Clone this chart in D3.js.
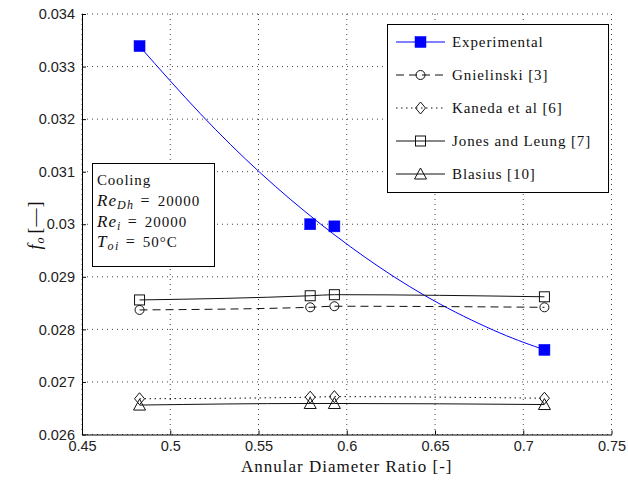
<!DOCTYPE html>
<html>
<head>
<meta charset="utf-8">
<script src="https://cdn.jsdelivr.net/npm/d3@7"></script>
<style>
  body { margin: 0; background: #fff; }
  svg { display: block; }
</style>
</head>
<body>
<div id="chart"></div>
<script>
// data
const ratio = [0.4826, 0.5793, 0.593, 0.712];
const experimental = [0.03339, 0.03000, 0.02996, 0.02761];
const gnielinski = [0.02837, 0.02842, 0.02844, 0.02842];
const kaneda = [0.02668, 0.02671, 0.02672, 0.02669];
const jones = [0.02856, 0.02864, 0.02866, 0.02862];
const blasius = [0.02656, 0.02659, 0.02659, 0.02657];

// blue fitted curve through the experimental points
const fitRatio = [0.4826, 0.517, 0.551, 0.5849, 0.6189, 0.6529, 0.6869, 0.712];
const fitValues = [0.033386, 0.032105, 0.030979, 0.030011, 0.029175, 0.028481, 0.02793, 0.027612];

const xTicks = [0.45, 0.5, 0.55, 0.6, 0.65, 0.7, 0.75];
const yTicks = [0.026, 0.027, 0.028, 0.029, 0.03, 0.031, 0.032, 0.033, 0.034];

const W = 628, H = 487;
const margin = { top: 14, right: 16.5, bottom: 52.5, left: 82 };
const width = W - margin.left - margin.right;
const height = H - margin.top - margin.bottom;

const svg = d3.select("#chart").append("svg")
    .attr("width", W)
    .attr("height", H);

const g = svg.append("g")
    .attr("transform", `translate(${margin.left},${margin.top})`);

const x = d3.scaleLinear().domain([0.45, 0.75]).range([0, width]);
const y = d3.scaleLinear().domain([0.026, 0.034]).range([height, 0]);

const fmt = d => String(+d.toFixed(3));

// grid
g.append("g").selectAll("line").data(xTicks).enter().append("line")
    .attr("x1", d => x(d)).attr("x2", d => x(d))
    .attr("y1", 0).attr("y2", height)
    .attr("stroke", "#444").attr("stroke-width", 1)
    .attr("stroke-dasharray", "1,4");
g.append("g").selectAll("line").data(yTicks).enter().append("line")
    .attr("y1", d => y(d)).attr("y2", d => y(d))
    .attr("x1", 0).attr("x2", width)
    .attr("stroke", "#444").attr("stroke-width", 1)
    .attr("stroke-dasharray", "1,4");

// axes
const xAxis = d3.axisBottom(x).tickValues(xTicks).tickFormat(fmt).tickSizeInner(-4).tickSizeOuter(0).tickPadding(6);
const yAxis = d3.axisLeft(y).tickValues(yTicks).tickFormat(fmt).tickSizeInner(-4).tickSizeOuter(0).tickPadding(7);

const gx = g.append("g").attr("transform", `translate(0,${height})`).call(xAxis);
const gy = g.append("g").call(yAxis);
[gx, gy].forEach(a => {
  a.select(".domain").attr("stroke", "#000");
  a.selectAll(".tick line").attr("stroke", "#000");
  a.selectAll("text").attr("fill", "#222")
    .style("font-family", "'Liberation Sans', Arial, sans-serif")
    .style("font-size", "14.5px");
});

// series
const pts = (xs, vals) => vals.map((v, i) => [xs[i], v]);
const lineMono = d3.line().x(d => x(d[0])).y(d => y(d[1])).curve(d3.curveMonotoneX);
const lineSmooth = d3.line().x(d => x(d[0])).y(d => y(d[1])).curve(d3.curveNatural);

const series = [
  { name: "Experimental", vals: experimental, color: "#0000ff", dash: null, marker: "filledSquare" },
  { name: "Gnielinski [3]", vals: gnielinski, color: "#111", dash: "8,5", marker: "circle" },
  { name: "Kaneda et al [6]", vals: kaneda, color: "#111", dash: "1.5,3.5", marker: "diamond" },
  { name: "Jones and Leung [7]", vals: jones, color: "#111", dash: null, marker: "square" },
  { name: "Blasius [10]", vals: blasius, color: "#111", dash: null, marker: "triangle" }
];

function drawMarker(sel, type, cx, cy) {
  if (type === "filledSquare") {
    sel.append("rect").attr("x", cx - 5.5).attr("y", cy - 5.5).attr("width", 11).attr("height", 11)
      .attr("fill", "#0000ff").attr("stroke", "#0000ff").attr("stroke-width", 0.5);
  } else if (type === "square") {
    sel.append("rect").attr("x", cx - 5).attr("y", cy - 5).attr("width", 10).attr("height", 10)
      .attr("fill", "none").attr("stroke", "#111").attr("stroke-width", 1);
  } else if (type === "circle") {
    sel.append("circle").attr("cx", cx).attr("cy", cy).attr("r", 4.5)
      .attr("fill", "none").attr("stroke", "#111").attr("stroke-width", 1);
  } else if (type === "diamond") {
    sel.append("path").attr("d", `M${cx},${cy - 6}L${cx + 5},${cy}L${cx},${cy + 6}L${cx - 5},${cy}Z`)
      .attr("fill", "none").attr("stroke", "#111").attr("stroke-width", 1);
  } else if (type === "triangle") {
    sel.append("path").attr("d", `M${cx},${cy - 6}L${cx + 6},${cy + 5}L${cx - 6},${cy + 5}Z`)
      .attr("fill", "none").attr("stroke", "#111").attr("stroke-width", 1);
  }
}

series.forEach(s => {
  const data = s.marker === "filledSquare" ? pts(fitRatio, fitValues) : pts(ratio, s.vals);
  g.append("path").datum(data)
    .attr("fill", "none")
    .attr("stroke", s.color)
    .attr("stroke-width", 1)
    .attr("stroke-dasharray", s.dash)
    .attr("d", s.marker === "filledSquare" ? lineSmooth : lineMono);
});
series.forEach(s => {
  const mg = g.append("g");
  pts(ratio, s.vals).forEach(d => drawMarker(mg, s.marker, x(d[0]), y(d[1])));
});

// legend
const serif = "'Liberation Serif', 'Times New Roman', serif";
const leg = svg.append("g");
leg.append("rect").attr("x", 387.5).attr("y", 24.5).attr("width", 221).attr("height", 168)
  .attr("fill", "#fff").attr("stroke", "#000").attr("stroke-width", 1);
series.forEach((s, i) => {
  const ly = 42 + i * 33;
  leg.append("line").attr("x1", 396).attr("x2", 445).attr("y1", ly).attr("y2", ly)
    .attr("stroke", s.color).attr("stroke-width", 1).attr("stroke-dasharray", s.dash);
  drawMarker(leg, s.marker, 420.5, ly);
  leg.append("text").attr("x", 452).attr("y", ly + 5).text(s.name)
    .style("font-family", serif).style("font-size", "15px").style("letter-spacing", "0.9px")
    .attr("fill", "#111");
});

// annotation box
const ann = svg.append("g");
ann.append("rect").attr("x", 92.5).attr("y", 163.5).attr("width", 122).attr("height", 103)
  .attr("fill", "#fff").attr("stroke", "#000").attr("stroke-width", 1);
const annText = (yy) => ann.append("text").attr("x", 97).attr("y", yy)
  .style("font-family", serif).style("font-size", "15px").attr("fill", "#111");
annText(185).style("letter-spacing", "0.8px").text("Cooling");
function mathLine(yy, sym, sub, rest) {
  const t = annText(yy);
  t.append("tspan").style("font-style", "italic").style("font-size", "17px")
    .style("letter-spacing", "1px").text(sym);
  t.append("tspan").style("font-style", "italic").style("font-size", "12px")
    .style("letter-spacing", "1.5px").attr("dy", 3).text(sub);
  t.append("tspan").attr("dy", -3).attr("dx", 6).style("font-size", "16px").text("=");
  t.append("tspan").attr("dx", 8).style("letter-spacing", "1px").text(rest);
}
mathLine(206, "Re", "Dh", "20000");
mathLine(227, "Re", "i", "20000");
mathLine(247, "T", "oi", "50°C");

// axis titles
svg.append("text").attr("x", margin.left + width / 2).attr("y", 472)
  .attr("text-anchor", "middle").text("Annular Diameter Ratio [-]")
  .style("font-family", serif).style("font-size", "17px").style("letter-spacing", "1px")
  .attr("fill", "#111");

const yl = svg.append("text").attr("transform", "translate(41,225) rotate(-90)")
  .attr("text-anchor", "middle")
  .style("font-family", serif).style("font-size", "18px").style("letter-spacing", "1px")
  .attr("fill", "#111");
yl.append("tspan").style("font-style", "italic").text("f");
yl.append("tspan").style("font-style", "italic").style("font-size", "12px").attr("dy", 3).text("o");
yl.append("tspan").attr("dy", -3).attr("dx", 3).text("[—]");
</script>
</body>
</html>
